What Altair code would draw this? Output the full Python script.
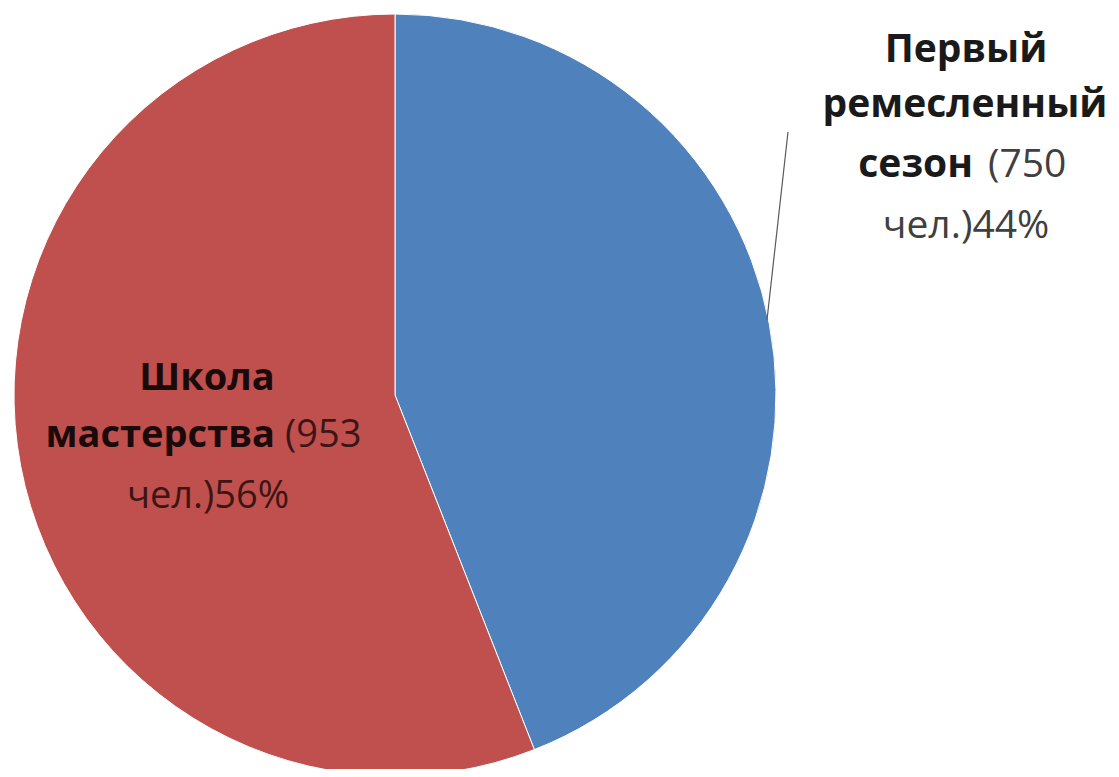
import altair as alt
import pandas as pd

categories = ["Первый ремесленный сезон", "Школа мастерства"]
values = [750, 953]
colors = ["#4F81BD", "#C0504D"]
order = [0, 1]

df = pd.DataFrame({"cat": categories, "val": values, "ord": order})

W, H = 1103, 761
FONT = "Open Sans"
FS = 39

pie = alt.Chart(df).mark_arc(radius=381, stroke="#ffffff", strokeWidth=1).encode(
    theta=alt.Theta("val:Q", stack=True),
    color=alt.Color("cat:N", scale=alt.Scale(domain=categories, range=colors), legend=None),
    order=alt.Order("ord:Q"),
    x=alt.value(387),
    y=alt.value(387),
)

base = alt.Chart(pd.DataFrame({"a": [0]}))


def txt(s, x, y, bold, align="center", color="#262626", fs=FS):
    return base.mark_text(
        text=s, font=FONT, fontSize=fs, fontWeight="bold" if bold else "normal",
        align=align, baseline="alphabetic", color=color,
    ).encode(x=alt.value(x), y=alt.value(y))


leader = base.mark_rule(color="#595959", strokeWidth=1.2).encode(
    x=alt.value(780), y=alt.value(124), x2=alt.value(759), y2=alt.value(312)
)

layers = [
    pie,
    leader,
    # right label
    txt("Первый", 958, 54, True, color="#1a1a1a"),
    txt("ремесленный", 957, 109, True, color="#1a1a1a"),
    txt("сезон", 965, 169, True, "right", color="#1a1a1a"),
    txt("(750", 980, 169, False, "left", color="#404040"),
    txt("чел.)44%", 958, 230, False, color="#404040"),
    # left label
    txt("Школа", 199, 382, True, color="#1a0a0a", fs=38),
    txt("мастерства", 267, 439, True, "right", color="#1a0a0a", fs=38),
    txt("(953", 277, 439, False, "left", color="#3b1615", fs=38),
    txt("чел.)56%", 200, 500, False, color="#3b1615", fs=38),
]

chart = alt.layer(*layers).properties(
    width=W, height=H, padding=0, autosize=alt.AutoSizeParams(type="none"),
    background="#ffffff",
).configure_view(stroke=None)

chart.save("out.html", embed_options={"renderer": "svg", "actions": False})
